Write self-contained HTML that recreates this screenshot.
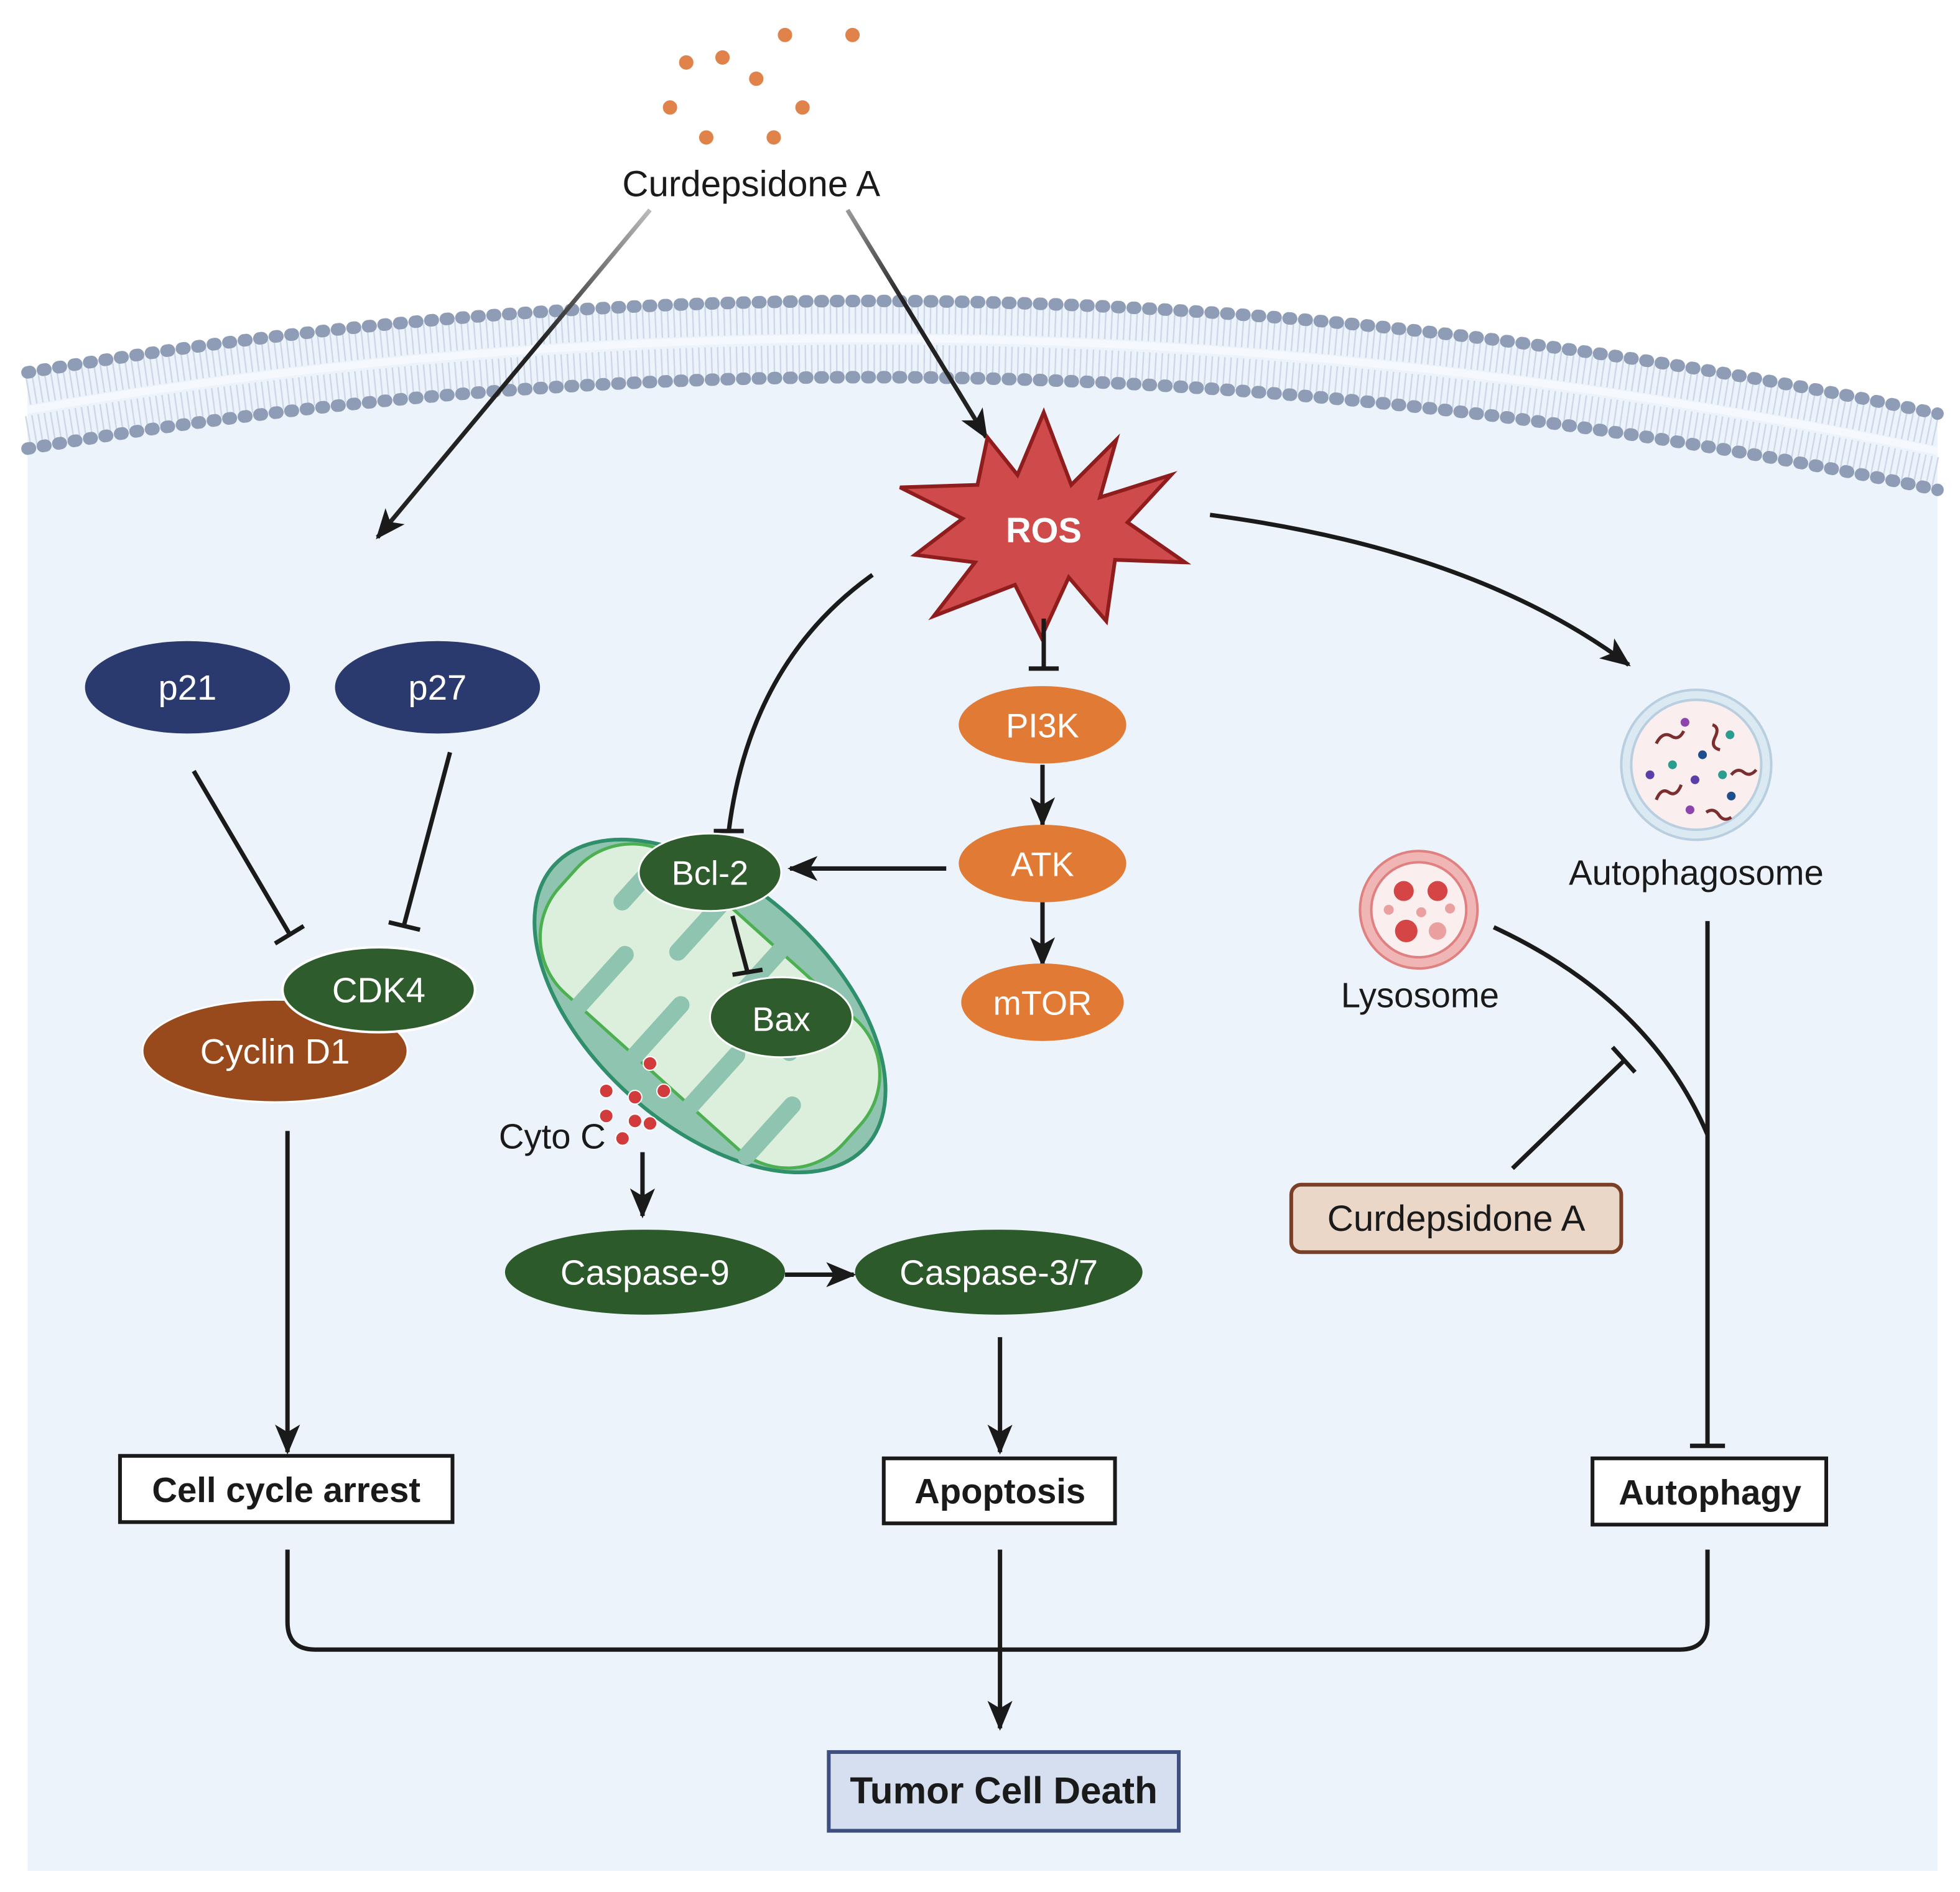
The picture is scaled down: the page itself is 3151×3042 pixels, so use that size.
<!DOCTYPE html>
<html><head><meta charset="utf-8"><style>
html,body{margin:0;padding:0;background:#fff}
svg{display:block}
text{font-family:"Liberation Sans",Arial,sans-serif}
</style></head><body>
<svg width="3151" height="3042" viewBox="0 0 1568 1514" preserveAspectRatio="none" xmlns="http://www.w3.org/2000/svg">
<defs>
<marker id="a" viewBox="0 0 12 10" refX="11" refY="5" markerWidth="24" markerHeight="20" markerUnits="userSpaceOnUse" orient="auto"><path d="M0,0 L12,5 L0,10 L3,5 Z" fill="#1a1a1a"/></marker>
<linearGradient id="g1" x1="520" y1="168" x2="300" y2="432" gradientUnits="userSpaceOnUse"><stop offset="0" stop-color="#bbb"/><stop offset="0.4" stop-color="#222"/></linearGradient>
<linearGradient id="g2" x1="678" y1="168" x2="790" y2="352" gradientUnits="userSpaceOnUse"><stop offset="0" stop-color="#999"/><stop offset="0.4" stop-color="#222"/></linearGradient>
</defs>
<rect width="1568" height="1514" fill="#fff"/>
<path d="M22,297 Q780,168 1550,330 L1550,1497 L22,1497 Z" fill="#edf3fb"/>
<path d="M22,312 Q780,183 1550,345" fill="none" stroke="#cdd7e8" stroke-width="24" stroke-dasharray="1.2 3.8"/>
<path d="M22,345 Q780,216 1550,378" fill="none" stroke="#cdd7e8" stroke-width="24" stroke-dasharray="1.2 3.8"/>
<path d="M22,328 Q780,199 1550,361" fill="none" stroke="#f5f8fc" stroke-width="6"/>
<path d="M22,298 Q780,169 1550,331" fill="none" stroke="#8e9db5" stroke-width="10" stroke-linecap="round" stroke-dasharray="2 10.5"/>
<path d="M22,359 Q780,230 1550,392" fill="none" stroke="#8e9db5" stroke-width="10" stroke-linecap="round" stroke-dasharray="2 10.5"/>

<g fill="#e0834a" stroke="#fff" stroke-width="1.5">
<circle cx="549" cy="50" r="6.5"/><circle cx="578" cy="46" r="6.5"/><circle cx="628" cy="28" r="6.5"/><circle cx="682" cy="28" r="6.5"/><circle cx="605" cy="63" r="6.5"/><circle cx="642" cy="86" r="6.5"/><circle cx="536" cy="86" r="6.5"/><circle cx="565" cy="110" r="6.5"/><circle cx="619" cy="110" r="6.5"/>
</g>
<text x="601" y="157" font-size="29" text-anchor="middle" fill="#1a1a1a">Curdepsidone A</text>
<line x1="520" y1="168" x2="302" y2="430" stroke="url(#g1)" stroke-width="3.5" marker-end="url(#a)"/>
<line x1="678" y1="168" x2="789" y2="350" stroke="url(#g2)" stroke-width="3.5" marker-end="url(#a)"/>

<path d="M835,330 L857,388 L893,352 L880,398 L937,380 L902,418 L948,450 L892,448 L885,497 L855,462 L833,510 L812,468 L747,493 L780,450 L732,444 L770,415 L720,390 L782,388 L790,350 L814,380 Z" fill="#cf4b4b" stroke="#8f1d1d" stroke-width="3"/>
<text x="835" y="434" font-size="28" font-weight="bold" text-anchor="middle" fill="#fff">ROS</text>

<g stroke="#1a1a1a" stroke-width="3.5" fill="none">
<line x1="835" y1="495" x2="835" y2="535"/><line x1="823" y1="535" x2="847" y2="535"/>
<line x1="834" y1="612" x2="834" y2="660" marker-end="url(#a)"/>
<line x1="834" y1="722" x2="834" y2="772" marker-end="url(#a)"/>
<line x1="757" y1="695" x2="632" y2="695" marker-end="url(#a)"/>
<path d="M698,460 Q600,530 583,665"/><line x1="571" y1="665" x2="595" y2="665"/>
<path d="M968,412 Q1180,440 1303,532" marker-end="url(#a)"/>
</g>

<g transform="rotate(42 568 805)">
<ellipse cx="568" cy="805" rx="168" ry="96" fill="#8fc4b0" stroke="#2f8f6a" stroke-width="3"/>
<rect x="415" y="735" width="306" height="140" rx="60" fill="#dcefdc" stroke="#4caf50" stroke-width="2.5"/>
<g stroke="#8fc4b0" stroke-width="14" stroke-linecap="round">
<line x1="460" y1="735" x2="460" y2="790"/><line x1="520" y1="735" x2="520" y2="790"/><line x1="580" y1="735" x2="580" y2="790"/><line x1="640" y1="735" x2="640" y2="790"/>
<line x1="490" y1="875" x2="490" y2="820"/><line x1="550" y1="875" x2="550" y2="820"/><line x1="610" y1="875" x2="610" y2="820"/><line x1="670" y1="875" x2="670" y2="820"/>
</g>
</g>
<ellipse cx="568" cy="698" rx="57" ry="31" fill="#2e5c2c" stroke="#fff" stroke-width="1.5"/>
<text x="568" y="708" font-size="27" text-anchor="middle" fill="#fff">Bcl-2</text>
<g stroke="#1a1a1a" stroke-width="3.5"><line x1="586" y1="733" x2="598" y2="778"/><line x1="586" y1="780" x2="610" y2="776"/></g>
<ellipse cx="625" cy="814" rx="57" ry="32" fill="#2e5c2c" stroke="#fff" stroke-width="1.5"/>
<text x="625" y="825" font-size="27" text-anchor="middle" fill="#fff">Bax</text>
<g fill="#d23b3b" stroke="#fff" stroke-width="1"><circle cx="520" cy="851" r="5.5"/><circle cx="508" cy="878" r="5.5"/><circle cx="531" cy="873" r="5.5"/><circle cx="485" cy="873" r="5.5"/><circle cx="508" cy="897" r="5.5"/><circle cx="485" cy="893" r="5.5"/><circle cx="520" cy="899" r="5.5"/><circle cx="498" cy="911" r="5.5"/></g>
<text x="399" y="919" font-size="28" fill="#1a1a1a">Cyto C</text>

<g stroke="#1a1a1a" stroke-width="3.5" fill="none">
<line x1="514" y1="922" x2="514" y2="973" marker-end="url(#a)"/>
<line x1="628" y1="1020" x2="683" y2="1020" marker-end="url(#a)"/>
<line x1="800" y1="1070" x2="800" y2="1162" marker-end="url(#a)"/>
</g>
<ellipse cx="516" cy="1018" rx="112" ry="34" fill="#2d5a2a"/>
<text x="516" y="1028" font-size="28" text-anchor="middle" fill="#fff">Caspase-9</text>
<ellipse cx="799" cy="1018" rx="115" ry="34" fill="#2d5a2a"/>
<text x="799" y="1028" font-size="28" text-anchor="middle" fill="#fff">Caspase-3/7</text>

<ellipse cx="834" cy="580" rx="67" ry="31" fill="#e07a35"/><text x="834" y="590" font-size="27" text-anchor="middle" fill="#fff">PI3K</text>
<ellipse cx="834" cy="691" rx="67" ry="31" fill="#e07a35"/><text x="834" y="701" font-size="27" text-anchor="middle" fill="#fff">ATK</text>
<ellipse cx="834" cy="802" rx="65" ry="31" fill="#e07a35"/><text x="834" y="812" font-size="27" text-anchor="middle" fill="#fff">mTOR</text>

<ellipse cx="150" cy="550" rx="82" ry="37" fill="#2b3a6e"/><text x="150" y="560" font-size="28" text-anchor="middle" fill="#fff">p21</text>
<ellipse cx="350" cy="550" rx="82" ry="37" fill="#2b3a6e"/><text x="350" y="560" font-size="28" text-anchor="middle" fill="#fff">p27</text>
<g stroke="#1a1a1a" stroke-width="3.5" fill="none">
<line x1="155" y1="617" x2="232" y2="748"/><line x1="220" y1="755" x2="243" y2="741"/>
<line x1="360" y1="602" x2="323" y2="741"/><line x1="311" y1="738" x2="336" y2="744"/>
<line x1="230" y1="905" x2="230" y2="1162" marker-end="url(#a)"/>
</g>
<ellipse cx="220" cy="841" rx="106" ry="41" fill="#994a1c" stroke="#fff" stroke-width="1.5"/>
<ellipse cx="303" cy="792" rx="77" ry="34" fill="#2e5c2c" stroke="#fff" stroke-width="2"/>
<text x="303" y="802" font-size="28" text-anchor="middle" fill="#fff">CDK4</text>
<text x="220" y="851" font-size="28" text-anchor="middle" fill="#fff">Cyclin D1</text>

<circle cx="1357" cy="612" r="60" fill="#dbe9f3" stroke="#b9cfe0" stroke-width="2"/>
<circle cx="1357" cy="612" r="52" fill="#fbeeee" stroke="#b9cfe0" stroke-width="2"/>
<g fill="none" stroke="#7a2e2e" stroke-width="2.5">
<path d="M1325,595 q5,-10 12,-6 q6,4 10,-4"/><path d="M1370,580 q6,2 2,10 q-4,8 4,10"/><path d="M1385,620 q5,-6 10,-2 q5,4 10,-2"/><path d="M1325,640 q4,-10 10,-6 q6,4 10,-6"/><path d="M1365,650 q6,-4 10,2 q4,6 10,2"/>
</g>
<g><circle cx="1348" cy="578" r="3.5" fill="#8e44ad"/><circle cx="1384" cy="588" r="3.5" fill="#2a9d8f"/><circle cx="1362" cy="604" r="3.5" fill="#1f4e8c"/><circle cx="1338" cy="612" r="3.5" fill="#2a9d8f"/><circle cx="1320" cy="620" r="3.5" fill="#5b3fa8"/><circle cx="1356" cy="624" r="3.5" fill="#5b3fa8"/><circle cx="1378" cy="620" r="3.5" fill="#2a9d8f"/><circle cx="1385" cy="637" r="3.5" fill="#1f4e8c"/><circle cx="1352" cy="648" r="3.5" fill="#8e44ad"/></g>
<text x="1357" y="708" font-size="28" text-anchor="middle" fill="#1a1a1a">Autophagosome</text>
<circle cx="1135" cy="728" r="47" fill="#f0b6b6" stroke="#e08080" stroke-width="2"/>
<circle cx="1135" cy="728" r="38" fill="#fbeeee" stroke="#e08080" stroke-width="2"/>
<g fill="#d64545"><circle cx="1123" cy="713" r="8"/><circle cx="1150" cy="713" r="8"/><circle cx="1125" cy="745" r="9"/></g>
<g fill="#eba0a0"><circle cx="1150" cy="745" r="7"/><circle cx="1111" cy="728" r="4"/><circle cx="1137" cy="730" r="4"/><circle cx="1160" cy="727" r="4"/></g>
<text x="1136" y="806" font-size="28" text-anchor="middle" fill="#1a1a1a">Lysosome</text>
<g stroke="#1a1a1a" stroke-width="3.5" fill="none">
<path d="M1195,742 Q1320,800 1366,908"/>
<line x1="1366" y1="737" x2="1366" y2="1157"/><line x1="1352" y1="1157" x2="1380" y2="1157"/>
<line x1="1210" y1="935" x2="1300" y2="848"/><line x1="1290" y1="838" x2="1308" y2="858"/>
</g>
<rect x="1033" y="948" width="264" height="54" rx="8" fill="#ead7c8" stroke="#7b3f25" stroke-width="3"/>
<text x="1165" y="985" font-size="29" text-anchor="middle" fill="#1a1a1a">Curdepsidone A</text>

<rect x="96" y="1165" width="266" height="53" fill="#fff" stroke="#1a1a1a" stroke-width="3"/>
<text x="229" y="1202" font-size="28" font-weight="bold" text-anchor="middle" fill="#1a1a1a">Cell cycle arrest</text>
<rect x="707" y="1167" width="185" height="52" fill="#fff" stroke="#1a1a1a" stroke-width="3"/>
<text x="800" y="1203" font-size="28" font-weight="bold" text-anchor="middle" fill="#1a1a1a">Apoptosis</text>
<rect x="1274" y="1167" width="187" height="53" fill="#fff" stroke="#1a1a1a" stroke-width="3"/>
<text x="1368" y="1204" font-size="28" font-weight="bold" text-anchor="middle" fill="#1a1a1a">Autophagy</text>
<g stroke="#1a1a1a" stroke-width="3.5" fill="none">
<path d="M230,1240 V1298 Q230,1320 252,1320 H1344 Q1366,1320 1366,1298 V1240"/>
<line x1="800" y1="1240" x2="800" y2="1383" marker-end="url(#a)"/>
</g>
<rect x="663" y="1402" width="280" height="63" fill="#d6dff0" stroke="#3d4f80" stroke-width="3"/>
<text x="803" y="1443" font-size="30" font-weight="bold" text-anchor="middle" fill="#1a1a1a">Tumor Cell Death</text>
</svg>
</body></html>
